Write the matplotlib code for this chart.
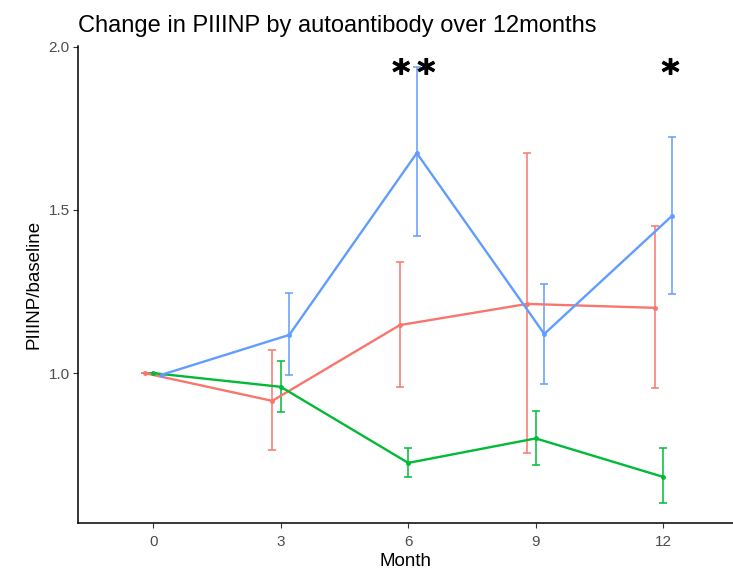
import matplotlib
matplotlib.use("Agg")
import matplotlib.pyplot as plt
import matplotlib.patheffects as pe
import numpy as np

plt.rcParams['font.family'] = ['Liberation Sans', 'DejaVu Sans']

# data
months = [0, 3, 6, 9, 12]
groups = ['red', 'green', 'blue']
colors = {'red': '#F8766D', 'green': '#00BA38', 'blue': '#619CFF'}
dodge = {'red': -0.2, 'green': 0.0, 'blue': 0.2}

means = {
    'red':   [1.0, 0.915, 1.147, 1.212, 1.200],
    'green': [1.0, 0.958, 0.725, 0.800, 0.682],
    'blue':  [0.995, 1.117, 1.674, 1.120, 1.481],
}
upper = {
    'red':   [1.0, 1.072, 1.340, 1.673, 1.452],
    'green': [1.0, 1.036, 0.771, 0.884, 0.771],
    'blue':  [0.995, 1.246, 1.939, 1.272, 1.722],
}
lower = {
    'red':   [1.0, 0.764, 0.957, 0.756, 0.954],
    'green': [1.0, 0.881, 0.682, 0.719, 0.602],
    'blue':  [0.995, 0.994, 1.420, 0.968, 1.242],
}

stars = ['*\u2009*', '*']
star_x = [6.13, 12.17]
star_y = [1.885, 1.885]

fig = plt.figure(figsize=(7.33, 5.70), dpi=100)
ax = fig.add_axes([0.1064, 0.0825, 0.8936, 0.8368])

for g in groups:
    x = np.array(months) + dodge[g]
    m = np.array(means[g])
    lo = m - np.array(lower[g])
    hi = np.array(upper[g]) - m
    ax.errorbar(x, m, yerr=[lo, hi], fmt='none', ecolor=colors[g],
                elinewidth=1.1, capsize=3.2, capthick=1.1, zorder=2)
    ax.plot(x, m, color=colors[g], lw=1.7, marker='o', ms=2.5, zorder=3)

for s, sx, sy in zip(stars, star_x, star_y):
    ax.text(sx, sy, s, ha='center', va='baseline', fontsize=25,
            fontweight='bold', color='black', family='DejaVu Sans',
            path_effects=[pe.withStroke(linewidth=0.6, foreground='black')])

ax.set_xlim(-1.77, 13.64)
ax.set_ylim(0.541, 2.002)
ax.set_xticks(months)
ax.set_yticks([1.0, 1.5, 2.0])
ax.set_yticklabels(['1.0', '1.5', '2.0'])
ax.tick_params(colors='#333333', labelcolor='#4D4D4D', labelsize=11,
               length=3.5, width=0.8, pad=2.5)
ax.tick_params(axis='x', pad=5)

for side in ['top', 'right']:
    ax.spines[side].set_visible(False)
for side in ['left', 'bottom']:
    ax.spines[side].set_linewidth(1.1)
    ax.spines[side].set_color('black')

ax.set_xlabel('Month', fontsize=13.5, labelpad=3)
ax.set_ylabel('PIIINP/baseline', fontsize=13.5, labelpad=4)
fig.text(78 / 733, 1 - 26 / 570, 'Change in PIIINP by autoantibody over 12months',
         fontsize=17, ha='left', va='center')

fig.savefig('out.png', dpi=100)
